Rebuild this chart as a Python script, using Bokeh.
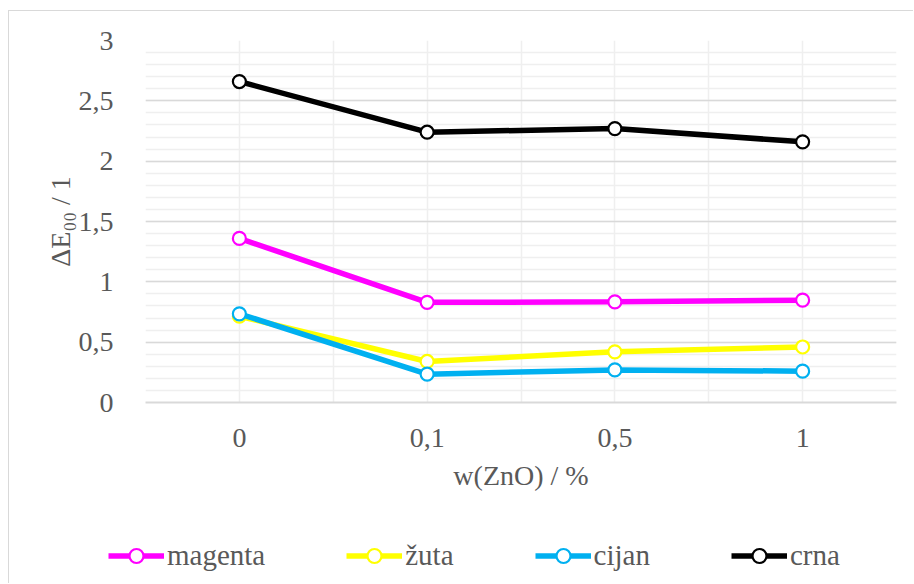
from bokeh.plotting import figure
from bokeh.layouts import column
from bokeh.models import Range1d, FixedTicker, Legend, LegendItem
from bokeh.embed import file_html
from bokeh.resources import INLINE

categories = ["0", "0,1", "0,5", "1"]
magenta = [1.36, 0.83, 0.834, 0.848]
zuta = [0.715, 0.34, 0.42, 0.46]
cijan = [0.735, 0.235, 0.27, 0.26]
crna = [2.66, 2.24, 2.27, 2.16]

series = [("magenta", magenta, "#FF00FF"), ("žuta", zuta, "#FFFF00"),
          ("cijan", cijan, "#00B0F0"), ("crna", crna, "#000000")]

y_ticks = [0, 0.5, 1, 1.5, 2, 2.5, 3]
y_labels = ["0", "0,5", "1", "1,5", "2", "2,5", "3"]

FONT = "Liberation Serif"
TXT = "#595959"

xs = list(range(len(categories)))

p = figure(width=904, height=520, output_backend="svg", toolbar_location=None,
           x_range=Range1d(-0.5, len(categories) - 0.5), y_range=Range1d(0, 3),
           min_border_left=136, min_border_right=17, min_border_top=29, min_border_bottom=129,
           outline_line_color=None, background_fill_color="white", border_fill_color="white")

# axes
p.xaxis.ticker = FixedTicker(ticks=xs)
p.xaxis.major_label_overrides = {i: c for i, c in enumerate(categories)}
p.yaxis.ticker = FixedTicker(ticks=y_ticks, minor_ticks=[i / 10 for i in range(31)])
p.yaxis.major_label_overrides = {t: l for t, l in zip(y_ticks, y_labels)}
for ax in (p.xaxis, p.yaxis):
    ax.major_tick_line_color = None
    ax.minor_tick_line_color = None
    ax.major_label_text_font = FONT
    ax.major_label_text_font_size = "28px"
    ax.major_label_text_color = TXT
    ax.axis_label_text_font = FONT
    ax.axis_label_text_font_size = "28px"
    ax.axis_label_text_color = TXT
    ax.axis_label_text_font_style = "normal"
p.yaxis.axis_line_color = None
p.xaxis.axis_line_color = "#d9d9d9"
p.xaxis.axis_line_width = 2
p.xaxis.major_label_standoff = 20
p.yaxis.major_label_standoff = 26
p.xaxis.axis_label = "w(ZnO) / %"
p.xaxis.axis_label_standoff = 10
p.yaxis.axis_label = "ΔE₀₀ / 1"
p.yaxis.axis_label_standoff = 0

# grids
p.xgrid.ticker = FixedTicker(ticks=[i / 2 for i in range(-1, 2 * len(categories))])
p.xgrid.grid_line_color = "#efefef"
p.xgrid.grid_line_width = 1.5
p.ygrid.grid_line_color = "#d9d9d9"
p.ygrid.grid_line_width = 1.5
p.ygrid.minor_grid_line_color = "#efefef"
p.ygrid.minor_grid_line_width = 1.5

LINE_W = 5.5
MARK_SIZE = 13
for name, vals, col in series:
    p.line(xs, vals, line_color=col, line_width=LINE_W)
    p.scatter(xs, vals, marker="circle", size=MARK_SIZE, line_color=col, line_width=2.2,
              fill_color="white")

# legend strip (series re-drawn outside its visible range, only their legend swatches show)
lf = figure(width=904, height=52, output_backend="svg", toolbar_location=None,
            x_range=Range1d(-0.5, len(categories) - 0.5), y_range=Range1d(100, 101),
            x_axis_location=None, y_axis_location=None, min_border=0,
            outline_line_color=None, background_fill_color="white", border_fill_color="white")
lf.xgrid.visible = False
lf.ygrid.visible = False
items = []
for name, vals, col in series:
    r1 = lf.line(xs, vals, line_color=col, line_width=LINE_W)
    r2 = lf.scatter(xs, vals, marker="circle", size=MARK_SIZE, line_color=col, line_width=2.2,
                    fill_color="white")
    items.append(LegendItem(label=name, renderers=[r1, r2]))

legend = Legend(items=items, orientation="horizontal", location=(99, 10),
                label_text_font=FONT, label_text_font_size="29px", label_text_color=TXT,
                glyph_width=56, glyph_height=35, spacing=81, label_standoff=3,
                border_line_color=None, background_fill_alpha=0, padding=0, margin=0)
lf.add_layout(legend, "center")

layout = column(p, column(lf, spacing=0), spacing=0,
                styles={"margin-left": "8px", "margin-top": "10px",
                        "border-left": "1px solid #d9d9d9", "border-top": "1px solid #d9d9d9"})

open("out.html", "w").write(file_html(layout, INLINE))
